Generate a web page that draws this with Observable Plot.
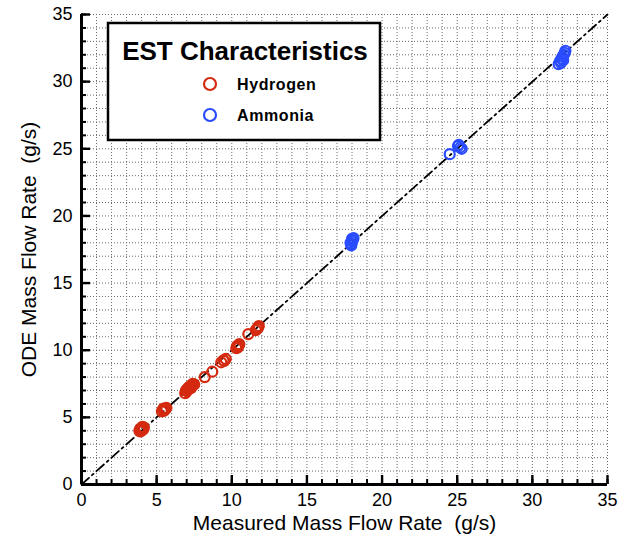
<!DOCTYPE html>
<html>
<head>
<meta charset="utf-8">
<script src="https://cdn.jsdelivr.net/npm/d3@7"></script>
<script src="https://cdn.jsdelivr.net/npm/@observablehq/plot@0.6"></script>
<style>
  html, body { margin: 0; padding: 0; background: #fff; }
  #chart { width: 618px; height: 546px; }
  svg { font-family: Arial, "Liberation Sans", sans-serif; }
</style>
</head>
<body>
<div id="chart"></div>
<script>
// ---- data ----
const hydrogenX = [3.85, 3.9, 4.0, 4.1, 4.15, 4.0, 3.95, 4.05, 4.1, 3.9,
  5.35, 5.45, 5.5, 5.6, 5.65, 5.5, 5.45, 5.55,
  6.9, 6.95, 7.0, 7.1, 7.2, 7.3, 7.35, 7.4, 7.5, 7.2, 7.1, 7.3, 7.0,
  8.2, 8.7, 9.3, 9.45, 9.6, 9.5,
  10.3, 10.35, 10.45, 10.5, 10.4,
  11.1, 11.6, 11.75, 11.8, 11.7];
const hydrogenY = [4.0, 4.15, 4.1, 4.2, 4.25, 4.0, 4.05, 4.3, 4.1, 3.95,
  5.45, 5.55, 5.6, 5.65, 5.7, 5.5, 5.65, 5.6,
  6.8, 7.0, 6.95, 7.1, 7.3, 7.35, 7.4, 7.5, 7.45, 7.15, 7.2, 7.2, 7.05,
  8.0, 8.4, 9.1, 9.25, 9.35, 9.2,
  10.15, 10.3, 10.35, 10.45, 10.2,
  11.2, 11.5, 11.7, 11.8, 11.6];
const ammoniaX = [17.95, 17.9, 18.05, 18.0, 18.0, 17.95, 18.1, 24.5, 25.1, 25.3, 25.2, 25.05, 31.75, 31.85, 31.95, 32.0, 32.1, 32.15, 32.2, 31.9, 32.05];
const ammoniaY = [17.8, 18.0, 18.2, 18.3, 18.1, 17.9, 18.35, 24.6, 25.3, 25.0, 25.1, 25.2, 31.3, 31.55, 31.7, 31.85, 32.0, 32.15, 32.3, 31.4, 31.6];
const seriesNames = ["Hydrogen", "Ammonia"];
const seriesColors = ["#d42a10", "#2a4cff"];
const axisDomain = [0, 35];
const majorTicks = [0, 5, 10, 15, 20, 25, 30, 35];
const minorTicks = d3.range(0, 36, 1);
const xLabel = "Measured Mass Flow Rate  (g/s)";
const yLabel = "ODE Mass Flow Rate  (g/s)";
const legendTitle = "EST Characteristics";

const points = [
  ...hydrogenX.map((x, i) => ({x, y: hydrogenY[i], s: seriesNames[0]})),
  ...ammoniaX.map((x, i) => ({x, y: ammoniaY[i], s: seriesNames[1]}))
];
const identity = axisDomain.map(d => ({x: d, y: d}));

const W = 618, H = 546;
const mL = 81, mR = 11, mT = 14, mB = 62;
const pxX = (W - mL - mR) / (axisDomain[1] - axisDomain[0]);
const pxY = (H - mT - mB) / (axisDomain[1] - axisDomain[0]);
const majLen = 9, minLen = 5;

const plot = Plot.plot({
  width: W, height: H,
  marginLeft: mL, marginRight: mR, marginTop: mT, marginBottom: mB,
  style: {fontFamily: "Arial, 'Liberation Sans', sans-serif", background: "#fff", overflow: "visible"},
  x: {domain: axisDomain, label: null},
  y: {domain: axisDomain, label: null},
  color: {domain: seriesNames, range: seriesColors},
  marks: [
    Plot.gridX(minorTicks, {stroke: "#6a6a6a", strokeOpacity: 1, strokeWidth: 1, strokeDasharray: "1,2"}),
    Plot.gridY(minorTicks, {stroke: "#6a6a6a", strokeOpacity: 1, strokeWidth: 1, strokeDasharray: "1,2"}),
    Plot.line(identity, {x: "x", y: "y", stroke: "#000", strokeWidth: 1.8, strokeDasharray: "10,4,2,4"}),
    Plot.dot(points, {x: "x", y: "y", stroke: "s", r: 5, strokeWidth: 2.2, fill: "none"}),
    // inward ticks
    Plot.ruleX(minorTicks, {x: d => d, y1: 0, y2: minLen / pxY, stroke: "#000", strokeWidth: 2}),
    Plot.ruleX(majorTicks, {x: d => d, y1: 0, y2: majLen / pxY, stroke: "#000", strokeWidth: 2.4}),
    Plot.ruleY(minorTicks, {y: d => d, x1: 0, x2: minLen / pxX, stroke: "#000", strokeWidth: 2}),
    Plot.ruleY(majorTicks, {y: d => d, x1: 0, x2: majLen / pxX, stroke: "#000", strokeWidth: 2.4}),
    Plot.ruleX([axisDomain[0]], {stroke: "#000", strokeWidth: 3}),
    Plot.ruleY([axisDomain[0]], {stroke: "#000", strokeWidth: 3}),
    Plot.axisX(majorTicks, {tickSize: 0, tickPadding: 9, fontSize: 18, label: null, tickFormat: d => String(d)}),
    Plot.axisY(majorTicks, {tickSize: 0, tickPadding: 9, fontSize: 18, label: null, tickFormat: d => String(d)}),
    Plot.text([xLabel], {frameAnchor: "bottom", textAnchor: "middle", text: d => d, dy: 45, fontSize: 21, fill: "#000"}),
    Plot.text([yLabel], {frameAnchor: "left", textAnchor: "middle", text: d => d, dx: -52, rotate: -90, fontSize: 21, fill: "#000"})
  ]
});

document.getElementById("chart").appendChild(plot);

// ---- legend box ----
const svg = d3.select(plot);
const lg = svg.append("g").attr("class", "legend");
lg.append("rect").attr("x", 108).attr("y", 23).attr("width", 272).attr("height", 117)
  .attr("fill", "#fff").attr("stroke", "#000").attr("stroke-width", 2.5);
lg.append("text").attr("x", 245).attr("y", 60).attr("text-anchor", "middle")
  .attr("font-size", 26).attr("font-weight", "bold").attr("fill", "#000").text(legendTitle);
seriesNames.forEach((name, i) => {
  const cy = 84 + i * 31;
  lg.append("circle").attr("cx", 210).attr("cy", cy).attr("r", 6)
    .attr("fill", "none").attr("stroke", seriesColors[i]).attr("stroke-width", 2.2);
  lg.append("text").attr("x", 237).attr("y", cy + 6).attr("text-anchor", "start").attr("font-size", 16)
    .attr("font-weight", "bold").attr("letter-spacing", 0.6).attr("fill", "#000").text(name);
});
</script>
</body>
</html>
